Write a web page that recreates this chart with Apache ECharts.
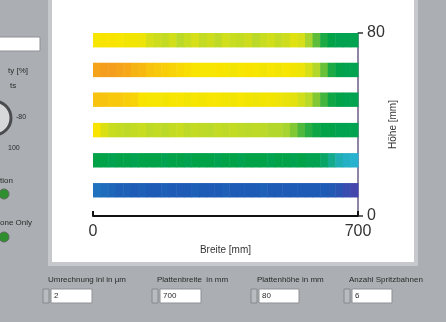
<!DOCTYPE html>
<html>
<head>
<meta charset="utf-8">
<script src="https://cdn.jsdelivr.net/npm/echarts@6/dist/echarts.min.js"></script>
<style>
html,body{margin:0;padding:0;background:#abaeb2;}
#chart{width:446px;height:322px;}
</style>
</head>
<body>
<div id="chart"></div>
<script>
// ---- data ----
var xMin = 0, xMax = 700, yMin = 0, yMax = 80;
var segmentWidth = 20; // mm per sample along Breite
var stripeTop = [80, 67, 54, 40.7, 27.5, 14.4];   // mm (Höhe)
var stripeThickness = 6.3;                         // mm
var stripe1 = [71,72,72,71,70,70,69, 64,62,60,63,58,61,64,60,62,59,63,61,60,62,58,61,63,60,62, 66,64, 56,50, 45,43,42,42,42];
var stripe2 = [84,85,85,84,83, 81,80,78,77,76,75,74,73, 72,71,71,72,71,70,71,72,71,70,71,70,71,70,69, 64,57,51, 45,43,42,42];
var stripe3 = [78,78,77,77,76,75, 72,71,71,70,71,71,70,71,70,71,71,70,70,71,70,69,70,70,69,68,67, 63,58,53,48, 44,43,42,42];
var stripe4 = [72,65, 61,60,59,60,61,59,60,58,60,61,59,60,59,58,60,59,60,59,58,59,58,57,57,56, 53,49,46, 44,43,43,42,42,42];
var stripe5 = [43,43,42,43,43,42,43,43,43,42,43,43,42,43,43,43,42,43,43,42,43,43,43,42,43,43,42,43,42,42, 40,36,32,30,29];
var stripe6 = [18,17,16, 15,15,14,15,14,14,15,14,14,14,15,14,14,14,15,14,14,14,14,15,14,14,14,14,14,14,14,14,13, 11,8,5];
var stripes = [stripe1, stripe2, stripe3, stripe4, stripe5, stripe6];
var xTickLabels = ['0', '700'];
var yTickLabels = ['0', '80'];
var colorScale = ['#5a3aa6', '#1d5cb6', '#29b2d3', '#00a248', '#b6d82c', '#f9e600', '#f59a1e', '#e03020'];

// build [x0, x1, yBottom, yTop, value]
var cells = [];
stripes.forEach(function (vals, s) {
  vals.forEach(function (v, i) {
    cells.push([i * segmentWidth, (i + 1) * segmentWidth, stripeTop[s] - stripeThickness, stripeTop[s], v]);
  });
});

var chart = echarts.init(document.getElementById('chart'));
var font = 'Liberation Sans, Arial, sans-serif';
function txt(x, y, s, size, align) {
  return {type: 'text', z: 1, x: x, y: y, style: {text: s, fill: '#2a2a2a', font: (size || 8) + 'px ' + font, textAlign: align || 'left', textVerticalAlign: 'middle'}};
}
function box(x, y, w, h, val) {
  return [
    {type: 'rect', z: 1, shape: {x: x, y: y, width: w, height: h}, style: {fill: '#ffffff', stroke: '#8d9094', lineWidth: 1}},
    {type: 'rect', z: 1, shape: {x: x - 8, y: y, width: 6, height: h}, style: {fill: '#b9bcbf', stroke: '#85888c', lineWidth: 1}},
    txt(x + 3, y + h / 2, val, 8)
  ];
}
var graphics = [
  // white plot panel
  {type: 'rect', z: 0, shape: {x: 48, y: -4, width: 370, height: 270}, style: {fill: '#c6c8cb'}},
  {type: 'rect', z: 0, shape: {x: 52, y: -4, width: 362, height: 266}, style: {fill: '#ffffff'}},
  // left partial controls
  {type: 'rect', z: 1, shape: {x: -4, y: 37, width: 44, height: 14}, style: {fill: '#ffffff', stroke: '#8d9094', lineWidth: 1}},
  txt(28, 71, 'ty [%]', 8, 'right'),
  txt(10, 86, 'ts', 8, 'left'),
  {type: 'circle', z: 1, shape: {cx: -6, cy: 118, r: 17}, style: {fill: '#d6d8da', stroke: '#4a4c50', lineWidth: 3}},
  txt(16, 117, '-80', 7, 'left'),
  txt(8, 148, '100', 7, 'left'),
  txt(0, 181, 'tion', 8, 'left'),
  {type: 'circle', z: 1, shape: {cx: 4, cy: 194, r: 5}, style: {fill: '#2f8f2f', stroke: '#5f6a5f', lineWidth: 1}},
  txt(0, 223, 'one Only', 8, 'left'),
  {type: 'circle', z: 1, shape: {cx: 4, cy: 237, r: 5}, style: {fill: '#2f8f2f', stroke: '#5f6a5f', lineWidth: 1}},
  // bottom controls
  txt(48, 280, 'Umrechnung inl in µm', 8),
  txt(157, 280, 'Plattenbreite  in mm', 8),
  txt(257, 280, 'Plattenhöhe in mm', 8),
  txt(349, 280, 'Anzahl Spritzbahnen', 8)
].concat(box(51, 289, 41, 14, '2'), box(160, 289, 41, 14, '700'), box(259, 289, 40, 14, '80'), box(352, 289, 40, 14, '6'));

chart.setOption({
  backgroundColor: '#abaeb2',
  animation: false,
  graphic: graphics,
  grid: {left: 93, right: 88, top: 33, bottom: 106, containLabel: false},
  visualMap: {show: false, type: 'continuous', min: 0, max: 100, dimension: 4, seriesIndex: 0, inRange: {color: colorScale}},
  xAxis: {
    type: 'value', min: xMin, max: xMax, interval: 700,
    name: 'Breite [mm]', nameLocation: 'middle', nameGap: 22,
    nameTextStyle: {fontSize: 10, color: '#333', fontFamily: font},
    axisLine: {show: true, onZero: false, lineStyle: {color: '#111', width: 2}},
    axisTick: {show: true, inside: true, length: 5, lineStyle: {color: '#111', width: 2}},
    axisLabel: {fontSize: 16, color: '#333', fontFamily: font, margin: 8, formatter: function (v) { return v === xMin ? xTickLabels[0] : xTickLabels[1]; }},
    splitLine: {show: false}
  },
  yAxis: {
    type: 'value', min: yMin, max: yMax, interval: 80, position: 'right',
    name: 'Höhe [mm]', nameLocation: 'middle', nameGap: 30, nameRotate: 90, nameMoveOverlap: false,
    nameTextStyle: {fontSize: 10, color: '#333', fontFamily: font},
    axisLine: {show: true, onZero: false, lineStyle: {color: '#6b5c86', width: 1.5}},
    axisTick: {show: true, inside: false, length: 5, lineStyle: {color: '#333', width: 1.5}},
    axisLabel: {fontSize: 16, color: '#333', fontFamily: font, margin: 9, formatter: function (v) { return v === yMin ? yTickLabels[0] : yTickLabels[1]; }},
    splitLine: {show: false}
  },
  series: [{
    type: 'custom',
    z: 2,
    data: cells,
    encode: {x: [0, 1], y: [2, 3]},
    renderItem: function (params, api) {
      var p0 = api.coord([api.value(0), api.value(3)]);
      var p1 = api.coord([api.value(1), api.value(2)]);
      return {type: 'rect', shape: {x: p0[0], y: p0[1], width: p1[0] - p0[0] + 0.5, height: p1[1] - p0[1]}, style: {fill: api.visual('color')}};
    }
  }]
});
</script>
</body>
</html>
